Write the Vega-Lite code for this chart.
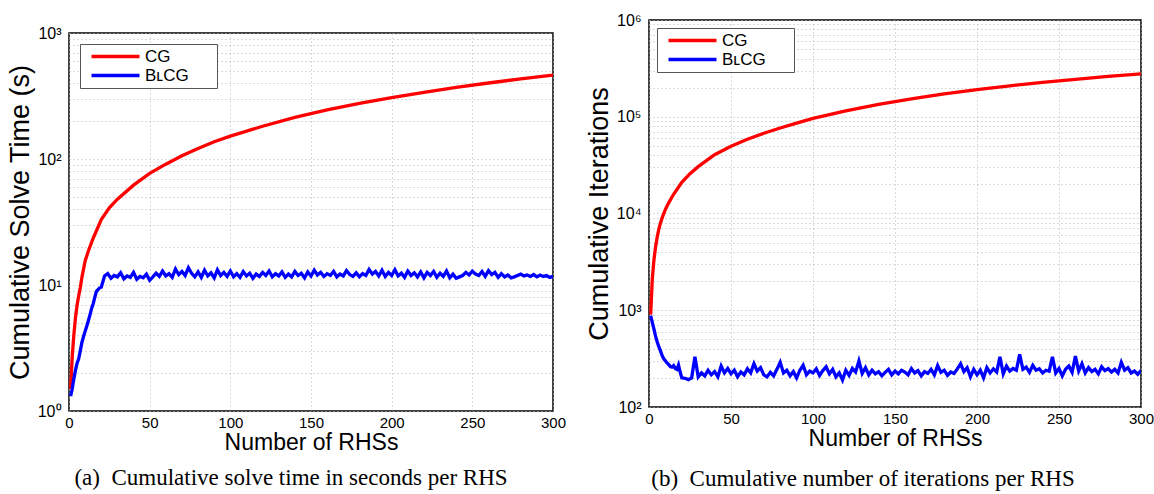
{
"$schema": "https://vega.github.io/schema/vega-lite/v6.json",
"background": "white",
"padding": {"left": 5, "top": 11, "right": 5, "bottom": 0},
"config": {
  "font": "Liberation Sans",
  "view": {"stroke": "black", "strokeWidth": 1.5},
  "axis": {"grid": true, "gridColor": "#b5b5b5", "gridDash": [1, 3], "gridWidth": 1, "domain": false, "ticks": false, "labelFont": "Liberation Sans", "labelFontSize": 15, "labelColor": "black", "titleFont": "Liberation Sans", "titleFontSize": 23, "titleFontWeight": "normal", "titleColor": "black", "labelOverlap": false, "labelFlush": false},
  "legend": {"labelFont": "Liberation Sans", "labelFontSize": 17, "labelColor": "black", "symbolType": "M-4,0H4", "symbolSize": 144, "symbolStrokeWidth": 3.5, "strokeColor": "#555555", "fillColor": "white", "padding": 4, "rowPadding": 1, "labelOffset": 21, "symbolOffset": 23},
  "title": {"font": "Liberation Serif", "fontSize": 23, "fontWeight": "normal", "color": "black", "orient": "bottom", "anchor": "middle", "frame": "group", "offset": 18}
},
"datasets": {
  "a": [
    {"n":1,"v":1.5,"s":"CG"},{"n":2,"v":2.7,"s":"CG"},{"n":3,"v":4.0,"s":"CG"},{"n":4,"v":5.5,"s":"CG"},{"n":5,"v":6.9,"s":"CG"},{"n":6,"v":8.2,"s":"CG"},{"n":7,"v":9.5,"s":"CG"},{"n":8,"v":11.5,"s":"CG"},{"n":10,"v":15.5,"s":"CG"},{"n":12,"v":18.6,"s":"CG"},{"n":15,"v":23.5,"s":"CG"},{"n":20,"v":33,"s":"CG"},{"n":25,"v":41,"s":"CG"},{"n":30,"v":48,"s":"CG"},{"n":40,"v":62,"s":"CG"},{"n":50,"v":77,"s":"CG"},{"n":60,"v":91,"s":"CG"},{"n":70,"v":106,"s":"CG"},{"n":80,"v":121,"s":"CG"},{"n":90,"v":137,"s":"CG"},{"n":100,"v":152,"s":"CG"},{"n":120,"v":182,"s":"CG"},{"n":140,"v":214,"s":"CG"},{"n":160,"v":245,"s":"CG"},{"n":180,"v":276,"s":"CG"},{"n":200,"v":307,"s":"CG"},{"n":220,"v":338,"s":"CG"},{"n":240,"v":370,"s":"CG"},{"n":260,"v":401,"s":"CG"},{"n":280,"v":432,"s":"CG"},{"n":300,"v":464,"s":"CG"},
    {"n":1,"v":1.31,"s":"BLCG"},{"n":2,"v":1.5,"s":"BLCG"},{"n":3,"v":1.8,"s":"BLCG"},{"n":4,"v":2.1,"s":"BLCG"},{"n":5,"v":2.4,"s":"BLCG"},{"n":6,"v":2.6,"s":"BLCG"},{"n":7,"v":3.0,"s":"BLCG"},{"n":8,"v":3.5,"s":"BLCG"},{"n":9,"v":3.9,"s":"BLCG"},{"n":10,"v":4.3,"s":"BLCG"},{"n":11,"v":4.7,"s":"BLCG"},{"n":12,"v":5.2,"s":"BLCG"},{"n":13,"v":5.8,"s":"BLCG"},{"n":14,"v":6.5,"s":"BLCG"},{"n":15,"v":7.1,"s":"BLCG"},{"n":16,"v":8.0,"s":"BLCG"},{"n":17,"v":8.9,"s":"BLCG"},{"n":18,"v":9.2,"s":"BLCG"},{"n":19,"v":9.5,"s":"BLCG"},{"n":20,"v":9.6,"s":"BLCG"},{"n":21,"v":10.6,"s":"BLCG"},{"n":22,"v":11.8,"s":"BLCG"},
    {"n":24,"v":12.3,"s":"BLCG"},{"n":26,"v":11.3,"s":"BLCG"},{"n":28,"v":11.9,"s":"BLCG"},{"n":30,"v":11.6,"s":"BLCG"},{"n":32,"v":12.5,"s":"BLCG"},{"n":34,"v":11.2,"s":"BLCG"},{"n":36,"v":11.8,"s":"BLCG"},{"n":38,"v":11.5,"s":"BLCG"},{"n":40,"v":12.6,"s":"BLCG"},{"n":42,"v":11.1,"s":"BLCG"},{"n":44,"v":11.7,"s":"BLCG"},{"n":46,"v":11.4,"s":"BLCG"},{"n":48,"v":12.2,"s":"BLCG"},{"n":50,"v":10.9,"s":"BLCG"},{"n":52,"v":11.6,"s":"BLCG"},{"n":54,"v":12.4,"s":"BLCG"},{"n":56,"v":11.7,"s":"BLCG"},{"n":58,"v":12.9,"s":"BLCG"},{"n":60,"v":11.8,"s":"BLCG"},{"n":62,"v":12.3,"s":"BLCG"},{"n":64,"v":11.5,"s":"BLCG"},{"n":66,"v":13.4,"s":"BLCG"},{"n":68,"v":12.1,"s":"BLCG"},{"n":70,"v":12.8,"s":"BLCG"},{"n":72,"v":11.9,"s":"BLCG"},{"n":74,"v":13.7,"s":"BLCG"},{"n":76,"v":12.4,"s":"BLCG"},{"n":78,"v":11.6,"s":"BLCG"},{"n":80,"v":12.7,"s":"BLCG"},{"n":82,"v":11.5,"s":"BLCG"},{"n":84,"v":13.1,"s":"BLCG"},{"n":86,"v":11.8,"s":"BLCG"},{"n":88,"v":12.5,"s":"BLCG"},{"n":90,"v":11.4,"s":"BLCG"},{"n":92,"v":13.2,"s":"BLCG"},{"n":94,"v":11.9,"s":"BLCG"},{"n":96,"v":12.6,"s":"BLCG"},{"n":98,"v":11.7,"s":"BLCG"},{"n":100,"v":12.9,"s":"BLCG"},{"n":102,"v":11.6,"s":"BLCG"},{"n":104,"v":12.3,"s":"BLCG"},{"n":106,"v":11.5,"s":"BLCG"},{"n":108,"v":12.8,"s":"BLCG"},{"n":110,"v":11.8,"s":"BLCG"},{"n":112,"v":12.4,"s":"BLCG"},{"n":114,"v":11.3,"s":"BLCG"},{"n":116,"v":12.2,"s":"BLCG"},{"n":118,"v":11.7,"s":"BLCG"},{"n":120,"v":12.6,"s":"BLCG"},{"n":122,"v":11.9,"s":"BLCG"},{"n":124,"v":12.9,"s":"BLCG"},{"n":126,"v":11.6,"s":"BLCG"},{"n":128,"v":12.3,"s":"BLCG"},{"n":130,"v":11.8,"s":"BLCG"},{"n":132,"v":12.7,"s":"BLCG"},{"n":134,"v":11.5,"s":"BLCG"},{"n":136,"v":12.2,"s":"BLCG"},{"n":138,"v":11.6,"s":"BLCG"},{"n":140,"v":12.8,"s":"BLCG"},{"n":142,"v":11.9,"s":"BLCG"},{"n":144,"v":12.4,"s":"BLCG"},{"n":146,"v":11.4,"s":"BLCG"},{"n":148,"v":12.7,"s":"BLCG"},{"n":150,"v":11.8,"s":"BLCG"},{"n":152,"v":13.1,"s":"BLCG"},{"n":154,"v":12.0,"s":"BLCG"},{"n":156,"v":12.6,"s":"BLCG"},{"n":158,"v":11.7,"s":"BLCG"},{"n":160,"v":12.3,"s":"BLCG"},{"n":162,"v":11.9,"s":"BLCG"},{"n":164,"v":12.8,"s":"BLCG"},{"n":166,"v":11.6,"s":"BLCG"},{"n":168,"v":12.2,"s":"BLCG"},{"n":170,"v":11.8,"s":"BLCG"},{"n":172,"v":13.0,"s":"BLCG"},{"n":174,"v":12.1,"s":"BLCG"},{"n":176,"v":11.7,"s":"BLCG"},{"n":178,"v":12.5,"s":"BLCG"},{"n":180,"v":11.6,"s":"BLCG"},{"n":182,"v":12.3,"s":"BLCG"},{"n":184,"v":11.9,"s":"BLCG"},{"n":186,"v":13.3,"s":"BLCG"},{"n":188,"v":12.2,"s":"BLCG"},{"n":190,"v":12.8,"s":"BLCG"},{"n":192,"v":11.8,"s":"BLCG"},{"n":194,"v":13.1,"s":"BLCG"},{"n":196,"v":11.7,"s":"BLCG"},{"n":198,"v":12.6,"s":"BLCG"},{"n":200,"v":11.9,"s":"BLCG"},{"n":202,"v":13.2,"s":"BLCG"},{"n":204,"v":11.8,"s":"BLCG"},{"n":206,"v":12.4,"s":"BLCG"},{"n":208,"v":11.5,"s":"BLCG"},{"n":210,"v":12.9,"s":"BLCG"},{"n":212,"v":11.9,"s":"BLCG"},{"n":214,"v":12.5,"s":"BLCG"},{"n":216,"v":11.6,"s":"BLCG"},{"n":218,"v":12.7,"s":"BLCG"},{"n":220,"v":11.4,"s":"BLCG"},{"n":222,"v":12.6,"s":"BLCG"},{"n":224,"v":11.9,"s":"BLCG"},{"n":226,"v":12.8,"s":"BLCG"},{"n":228,"v":11.5,"s":"BLCG"},{"n":230,"v":12.4,"s":"BLCG"},{"n":232,"v":11.7,"s":"BLCG"},{"n":234,"v":12.9,"s":"BLCG"},{"n":236,"v":11.4,"s":"BLCG"},{"n":238,"v":12.2,"s":"BLCG"},{"n":240,"v":11.3,"s":"BLCG"},{"n":242,"v":11.6,"s":"BLCG"},{"n":244,"v":11.9,"s":"BLCG"},{"n":246,"v":12.6,"s":"BLCG"},{"n":248,"v":12.0,"s":"BLCG"},{"n":250,"v":12.9,"s":"BLCG"},{"n":252,"v":12.2,"s":"BLCG"},{"n":254,"v":11.9,"s":"BLCG"},{"n":256,"v":12.8,"s":"BLCG"},{"n":258,"v":11.7,"s":"BLCG"},{"n":260,"v":13.0,"s":"BLCG"},{"n":262,"v":12.1,"s":"BLCG"},{"n":264,"v":12.6,"s":"BLCG"},{"n":266,"v":11.5,"s":"BLCG"},{"n":268,"v":12.3,"s":"BLCG"},{"n":270,"v":11.6,"s":"BLCG"},{"n":272,"v":12.0,"s":"BLCG"},{"n":274,"v":11.4,"s":"BLCG"},{"n":276,"v":11.6,"s":"BLCG"},{"n":278,"v":11.9,"s":"BLCG"},{"n":280,"v":12.2,"s":"BLCG"},{"n":282,"v":11.8,"s":"BLCG"},{"n":284,"v":12.0,"s":"BLCG"},{"n":286,"v":11.7,"s":"BLCG"},{"n":288,"v":12.1,"s":"BLCG"},{"n":290,"v":11.6,"s":"BLCG"},{"n":292,"v":12.0,"s":"BLCG"},{"n":294,"v":11.7,"s":"BLCG"},{"n":296,"v":11.9,"s":"BLCG"},{"n":298,"v":11.5,"s":"BLCG"},{"n":300,"v":11.7,"s":"BLCG"}
  ],
  "b": [
    {"n":1,"v":900,"s":"CG"},{"n":2,"v":2100,"s":"CG"},{"n":3,"v":3300,"s":"CG"},{"n":4,"v":4500,"s":"CG"},{"n":5,"v":5700,"s":"CG"},{"n":6,"v":6900,"s":"CG"},{"n":7,"v":8000,"s":"CG"},{"n":8,"v":9000,"s":"CG"},{"n":10,"v":11000,"s":"CG"},{"n":12,"v":12900,"s":"CG"},{"n":15,"v":15800,"s":"CG"},{"n":20,"v":21000,"s":"CG"},{"n":25,"v":25800,"s":"CG"},{"n":30,"v":30500,"s":"CG"},{"n":40,"v":40500,"s":"CG"},{"n":50,"v":49500,"s":"CG"},{"n":60,"v":58500,"s":"CG"},{"n":70,"v":67500,"s":"CG"},{"n":80,"v":76500,"s":"CG"},{"n":90,"v":86000,"s":"CG"},{"n":100,"v":96000,"s":"CG"},{"n":120,"v":115000,"s":"CG"},{"n":140,"v":134000,"s":"CG"},{"n":160,"v":153000,"s":"CG"},{"n":180,"v":172000,"s":"CG"},{"n":200,"v":191000,"s":"CG"},{"n":220,"v":209000,"s":"CG"},{"n":240,"v":227000,"s":"CG"},{"n":260,"v":244000,"s":"CG"},{"n":280,"v":261000,"s":"CG"},{"n":300,"v":278000,"s":"CG"},
    {"n":1,"v":880,"s":"BLCG"},{"n":2,"v":750,"s":"BLCG"},{"n":3,"v":640,"s":"BLCG"},{"n":4,"v":540,"s":"BLCG"},{"n":5,"v":470,"s":"BLCG"},{"n":6,"v":420,"s":"BLCG"},{"n":7,"v":380,"s":"BLCG"},{"n":8,"v":340,"s":"BLCG"},{"n":9,"v":315,"s":"BLCG"},{"n":10,"v":300,"s":"BLCG"},{"n":11,"v":285,"s":"BLCG"},{"n":12,"v":275,"s":"BLCG"},{"n":13,"v":262,"s":"BLCG"},{"n":14,"v":258,"s":"BLCG"},{"n":15,"v":268,"s":"BLCG"},{"n":16,"v":250,"s":"BLCG"},{"n":17,"v":245,"s":"BLCG"},{"n":18,"v":272,"s":"BLCG"},{"n":19,"v":230,"s":"BLCG"},{"n":20,"v":200,"s":"BLCG"},
    {"n":22,"v":198,"s":"BLCG"},{"n":24,"v":192,"s":"BLCG"},{"n":26,"v":200,"s":"BLCG"},{"n":28,"v":330,"s":"BLCG"},{"n":30,"v":205,"s":"BLCG"},{"n":32,"v":225,"s":"BLCG"},{"n":34,"v":210,"s":"BLCG"},{"n":36,"v":240,"s":"BLCG"},{"n":38,"v":215,"s":"BLCG"},{"n":40,"v":232,"s":"BLCG"},{"n":42,"v":205,"s":"BLCG"},{"n":44,"v":265,"s":"BLCG"},{"n":46,"v":225,"s":"BLCG"},{"n":48,"v":250,"s":"BLCG"},{"n":50,"v":220,"s":"BLCG"},{"n":52,"v":240,"s":"BLCG"},{"n":54,"v":205,"s":"BLCG"},{"n":56,"v":230,"s":"BLCG"},{"n":58,"v":215,"s":"BLCG"},{"n":60,"v":248,"s":"BLCG"},{"n":62,"v":225,"s":"BLCG"},{"n":64,"v":280,"s":"BLCG"},{"n":66,"v":235,"s":"BLCG"},{"n":68,"v":255,"s":"BLCG"},{"n":70,"v":215,"s":"BLCG"},{"n":72,"v":205,"s":"BLCG"},{"n":74,"v":228,"s":"BLCG"},{"n":76,"v":210,"s":"BLCG"},{"n":78,"v":245,"s":"BLCG"},{"n":80,"v":290,"s":"BLCG"},{"n":82,"v":225,"s":"BLCG"},{"n":84,"v":240,"s":"BLCG"},{"n":86,"v":210,"s":"BLCG"},{"n":88,"v":232,"s":"BLCG"},{"n":90,"v":200,"s":"BLCG"},{"n":92,"v":240,"s":"BLCG"},{"n":94,"v":270,"s":"BLCG"},{"n":96,"v":215,"s":"BLCG"},{"n":98,"v":235,"s":"BLCG"},{"n":100,"v":225,"s":"BLCG"},{"n":102,"v":248,"s":"BLCG"},{"n":104,"v":212,"s":"BLCG"},{"n":106,"v":238,"s":"BLCG"},{"n":108,"v":260,"s":"BLCG"},{"n":110,"v":220,"s":"BLCG"},{"n":112,"v":245,"s":"BLCG"},{"n":114,"v":205,"s":"BLCG"},{"n":116,"v":225,"s":"BLCG"},{"n":118,"v":190,"s":"BLCG"},{"n":120,"v":240,"s":"BLCG"},{"n":122,"v":212,"s":"BLCG"},{"n":124,"v":250,"s":"BLCG"},{"n":126,"v":230,"s":"BLCG"},{"n":128,"v":300,"s":"BLCG"},{"n":130,"v":222,"s":"BLCG"},{"n":132,"v":255,"s":"BLCG"},{"n":134,"v":215,"s":"BLCG"},{"n":136,"v":240,"s":"BLCG"},{"n":138,"v":220,"s":"BLCG"},{"n":140,"v":232,"s":"BLCG"},{"n":142,"v":210,"s":"BLCG"},{"n":144,"v":228,"s":"BLCG"},{"n":146,"v":245,"s":"BLCG"},{"n":148,"v":215,"s":"BLCG"},{"n":150,"v":235,"s":"BLCG"},{"n":152,"v":220,"s":"BLCG"},{"n":154,"v":240,"s":"BLCG"},{"n":156,"v":230,"s":"BLCG"},{"n":158,"v":215,"s":"BLCG"},{"n":160,"v":250,"s":"BLCG"},{"n":162,"v":225,"s":"BLCG"},{"n":164,"v":238,"s":"BLCG"},{"n":166,"v":210,"s":"BLCG"},{"n":168,"v":232,"s":"BLCG"},{"n":170,"v":222,"s":"BLCG"},{"n":172,"v":245,"s":"BLCG"},{"n":174,"v":215,"s":"BLCG"},{"n":176,"v":268,"s":"BLCG"},{"n":178,"v":228,"s":"BLCG"},{"n":180,"v":240,"s":"BLCG"},{"n":182,"v":212,"s":"BLCG"},{"n":184,"v":230,"s":"BLCG"},{"n":186,"v":222,"s":"BLCG"},{"n":188,"v":248,"s":"BLCG"},{"n":190,"v":280,"s":"BLCG"},{"n":192,"v":232,"s":"BLCG"},{"n":194,"v":255,"s":"BLCG"},{"n":196,"v":205,"s":"BLCG"},{"n":198,"v":245,"s":"BLCG"},{"n":200,"v":215,"s":"BLCG"},{"n":202,"v":240,"s":"BLCG"},{"n":204,"v":200,"s":"BLCG"},{"n":206,"v":255,"s":"BLCG"},{"n":208,"v":225,"s":"BLCG"},{"n":210,"v":248,"s":"BLCG"},{"n":212,"v":230,"s":"BLCG"},{"n":214,"v":330,"s":"BLCG"},{"n":216,"v":220,"s":"BLCG"},{"n":218,"v":265,"s":"BLCG"},{"n":220,"v":235,"s":"BLCG"},{"n":222,"v":250,"s":"BLCG"},{"n":224,"v":240,"s":"BLCG"},{"n":226,"v":350,"s":"BLCG"},{"n":228,"v":245,"s":"BLCG"},{"n":230,"v":258,"s":"BLCG"},{"n":232,"v":228,"s":"BLCG"},{"n":234,"v":270,"s":"BLCG"},{"n":236,"v":240,"s":"BLCG"},{"n":238,"v":248,"s":"BLCG"},{"n":240,"v":225,"s":"BLCG"},{"n":242,"v":240,"s":"BLCG"},{"n":244,"v":235,"s":"BLCG"},{"n":246,"v":330,"s":"BLCG"},{"n":248,"v":225,"s":"BLCG"},{"n":250,"v":250,"s":"BLCG"},{"n":252,"v":210,"s":"BLCG"},{"n":254,"v":245,"s":"BLCG"},{"n":256,"v":265,"s":"BLCG"},{"n":258,"v":228,"s":"BLCG"},{"n":260,"v":335,"s":"BLCG"},{"n":262,"v":235,"s":"BLCG"},{"n":264,"v":280,"s":"BLCG"},{"n":266,"v":225,"s":"BLCG"},{"n":268,"v":255,"s":"BLCG"},{"n":270,"v":232,"s":"BLCG"},{"n":272,"v":245,"s":"BLCG"},{"n":274,"v":220,"s":"BLCG"},{"n":276,"v":260,"s":"BLCG"},{"n":278,"v":238,"s":"BLCG"},{"n":280,"v":250,"s":"BLCG"},{"n":282,"v":230,"s":"BLCG"},{"n":284,"v":245,"s":"BLCG"},{"n":286,"v":225,"s":"BLCG"},{"n":288,"v":290,"s":"BLCG"},{"n":290,"v":240,"s":"BLCG"},{"n":292,"v":255,"s":"BLCG"},{"n":294,"v":225,"s":"BLCG"},{"n":296,"v":235,"s":"BLCG"},{"n":298,"v":218,"s":"BLCG"},{"n":300,"v":238,"s":"BLCG"}
  ]
},
"hconcat": [
  {
    "vconcat": [
      {"width": 484, "height": 1, "data": {"values": [{"k": 0}]}, "mark": {"type": "point", "opacity": 0}, "view": {"stroke": null}},
      {
        "width": 484, "height": 378,
        "data": {"name": "a"},
        "title": {"text": "(a)\u00a0 Cumulative solve time in seconds per RHS", "dx": -20, "offset": 13},
        "mark": {"type": "line", "strokeWidth": 3.3, "clip": true},
        "encoding": {
          "x": {"field": "n", "type": "quantitative", "scale": {"domain": [0, 300], "nice": false, "zero": false}, "axis": {"values": [0, 50, 100, 150, 200, 250, 300], "title": "Number of RHSs", "labelPadding": 4, "titlePadding": 1}},
          "y": {"field": "v", "type": "quantitative", "scale": {"type": "log", "domain": [1, 1000], "nice": false}, "axis": {"values": [1,2,3,4,5,6,7,8,9,10,20,30,40,50,60,70,80,90,100,200,300,400,500,600,700,800,900,1000], "labelExpr": "abs(log(datum.value)/LN10 - round(log(datum.value)/LN10)) < 0.001 ? '10' + ['⁰','¹','²','³','⁴','⁵','⁶'][round(log(datum.value)/LN10)] : ''", "labelFontSize": 16, "title": "Cumulative Solve Time (s)", "titleFontSize": 27, "labelPadding": 8, "titlePadding": 3}},
          "color": {"field": "s", "type": "nominal", "sort": null, "scale": {"domain": ["CG", "BLCG"], "range": ["#ff0000", "#0000ff"]}, "legend": {"title": null, "orient": "top-left", "offset": 11, "labelExpr": "(datum.label == 'BLCG' ? 'BʟCG' : datum.label) + '\u2800\u2800'"}}
        }
      }
    ],
    "spacing": 0,
    "resolve": {"scale": {"color": "independent"}, "legend": {"color": "independent"}}
  },
  {
    "width": 492, "height": 387,
    "data": {"name": "b"},
    "title": {"text": "(b)\u00a0 Cumulative number of iterations per RHS", "dx": -32},
    "mark": {"type": "line", "strokeWidth": 3.3, "clip": true},
    "encoding": {
      "x": {"field": "n", "type": "quantitative", "scale": {"domain": [0, 300], "nice": false, "zero": false}, "axis": {"values": [0, 50, 100, 150, 200, 250, 300], "title": "Number of RHSs", "labelPadding": 4, "titlePadding": 1}},
      "y": {"field": "v", "type": "quantitative", "scale": {"type": "log", "domain": [100, 1000000], "nice": false}, "axis": {"values": [100,200,300,400,500,600,700,800,900,1000,2000,3000,4000,5000,6000,7000,8000,9000,10000,20000,30000,40000,50000,60000,70000,80000,90000,100000,200000,300000,400000,500000,600000,700000,800000,900000,1000000], "labelExpr": "abs(log(datum.value)/LN10 - round(log(datum.value)/LN10)) < 0.001 ? '10' + ['⁰','¹','²','³','⁴','⁵','⁶'][round(log(datum.value)/LN10)] : ''", "labelFontSize": 16, "title": "Cumulative Iterations", "titleFontSize": 27, "labelPadding": 8, "titlePadding": 3}},
      "color": {"field": "s", "type": "nominal", "sort": null, "scale": {"domain": ["CG", "BLCG"], "range": ["#ff0000", "#0000ff"]}, "legend": {"title": null, "orient": "top-left", "offset": 8, "labelExpr": "(datum.label == 'BLCG' ? 'BʟCG' : datum.label) + '\u2800\u2800'"}}
    }
  }
],
"spacing": 17,
"resolve": {"scale": {"color": "independent"}, "legend": {"color": "independent"}}
}
